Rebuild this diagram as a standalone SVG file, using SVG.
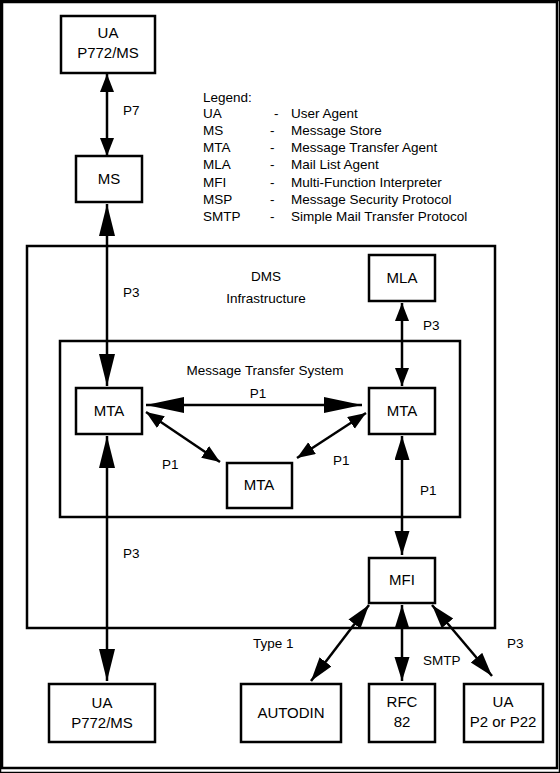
<svg xmlns="http://www.w3.org/2000/svg" width="560" height="773" viewBox="0 0 560 773">
<defs>
<style>
text{font-family:"Liberation Sans",Arial,sans-serif;fill:#000}
.n{font-size:15px;text-anchor:middle}
.l{font-size:13.5px}
.c{text-anchor:middle}
rect{fill:#fff;stroke:#000;stroke-width:2.5}
.frame{fill:none;stroke:#000;stroke-width:2.5}
.cn line{stroke:#000;stroke-width:2.5}
.s{marker-start:url(#hs);marker-end:url(#hs)}
.m{marker-start:url(#hm);marker-end:url(#hm)}
.b{marker-start:url(#hb);marker-end:url(#hb)}
.h{marker-start:url(#hl);marker-end:url(#hl)}
</style>
<marker id="hs" markerUnits="userSpaceOnUse" markerWidth="20" markerHeight="16" refX="18" refY="7" orient="auto-start-reverse"><path d="M0,0 L18,7 L0,14 Z" fill="#000"/></marker>
<marker id="hm" markerUnits="userSpaceOnUse" markerWidth="26" markerHeight="16" refX="24" refY="7.5" orient="auto-start-reverse"><path d="M0,0 L24,7.5 L0,15 Z" fill="#000"/></marker>
<marker id="hb" markerUnits="userSpaceOnUse" markerWidth="34" markerHeight="18" refX="32" refY="8" orient="auto-start-reverse"><path d="M0,0 L32,8 L0,16 Z" fill="#000"/></marker>
<marker id="hl" markerUnits="userSpaceOnUse" markerWidth="40" markerHeight="18" refX="38" refY="8" orient="auto-start-reverse"><path d="M0,0 L38,8 L0,16 Z" fill="#000"/></marker>
</defs>
<rect x="0" y="0" width="560" height="773" fill="#fff" stroke="none"/>
<rect class="frame" x="2" y="2" width="555" height="766"/>

<g id="dms"><rect class="frame" x="27" y="246" width="468" height="382"/>
<text class="l c" x="266" y="281">DMS</text><text class="l c" x="266" y="303">Infrastructure</text>
<text class="l" x="253" y="648">Type 1</text></g>
<g id="mts"><rect class="frame" x="60" y="341" width="400" height="176"/>
<text class="l c" x="265" y="375">Message Transfer System</text></g>

<g id="legend" class="l">
<text x="203" y="102">Legend:</text>
<text x="203" y="118">UA</text><text x="274" y="118">-</text><text x="291" y="118">User Agent</text>
<text x="203" y="135">MS</text><text x="270" y="135">-</text><text x="291" y="135">Message Store</text>
<text x="203" y="152">MTA</text><text x="270" y="152">-</text><text x="291" y="152">Message Transfer Agent</text>
<text x="203" y="169">MLA</text><text x="270" y="169">-</text><text x="291" y="169">Mail List Agent</text>
<text x="203" y="187">MFI</text><text x="270" y="187">-</text><text x="291" y="187">Multi-Function Interpreter</text>
<text x="203" y="204">MSP</text><text x="270" y="204">-</text><text x="291" y="204">Message Security Protocol</text>
<text x="203" y="221">SMTP</text><text x="270" y="221">-</text><text x="291" y="221">Simple Mail Transfer Protocol</text>
</g>

<g id="connectors" class="cn">
<line class="s" x1="107" y1="74" x2="107" y2="156"/>
<line class="b" x1="107" y1="204" x2="107" y2="386"/>
<line class="b" x1="107" y1="436" x2="107" y2="681"/>
<line class="s" x1="402" y1="303" x2="402" y2="386"/>
<line class="m" x1="402" y1="436" x2="402" y2="555"/>
<line class="h" x1="146" y1="405" x2="362" y2="405"/>
<line class="s" x1="146" y1="412" x2="220" y2="462"/>
<line class="s" x1="366" y1="413" x2="297" y2="458"/>
<line class="m" x1="369" y1="605" x2="311" y2="681"/>
<line class="m" x1="402" y1="605" x2="402" y2="681"/>
<line class="m" x1="432" y1="605" x2="492" y2="676"/>
<g class="l"><text x="123" y="115">P7</text><text x="123" y="297">P3</text><text x="123" y="558">P3</text>
<text x="423" y="330">P3</text><text class="c" x="258" y="398">P1</text><text x="162" y="469">P1</text>
<text x="333" y="465">P1</text><text x="420" y="495">P1</text><text x="423" y="665">SMTP</text><text x="507" y="648">P3</text></g>
</g>

<g id="ua_top"><rect x="61" y="16" width="94" height="57"/><text class="n" x="108" y="38">UA</text><text class="n" x="108" y="58">P772/MS</text></g>
<g id="ms"><rect x="76" y="156" width="66" height="46"/><text class="n" x="109" y="184">MS</text></g>
<g id="mla"><rect x="369" y="255" width="66" height="46"/><text class="n" x="402" y="283">MLA</text></g>
<g id="mta_left"><rect x="76" y="388" width="66" height="46"/><text class="n" x="109" y="416">MTA</text></g>
<g id="mta_right"><rect x="369" y="388" width="66" height="46"/><text class="n" x="402" y="416">MTA</text></g>
<g id="mta_bottom"><rect x="227" y="463" width="65" height="45"/><text class="n" x="259" y="490">MTA</text></g>
<g id="mfi"><rect x="369" y="558" width="66" height="45"/><text class="n" x="402" y="585">MFI</text></g>
<g id="ua_bottom"><rect x="49" y="684" width="106" height="58"/><text class="n" x="102" y="708">UA</text><text class="n" x="102" y="728">P772/MS</text></g>
<g id="autodin"><rect x="241" y="684" width="100" height="58"/><text class="n" x="291" y="718">AUTODIN</text></g>
<g id="rfc"><rect x="369" y="684" width="66" height="58"/><text class="n" x="402" y="707">RFC</text><text class="n" x="402" y="727">82</text></g>
<g id="ua_p2"><rect x="464" y="684" width="79" height="58"/><text class="n" x="503" y="707">UA</text><text class="n" x="503" y="727">P2 or P22</text></g>
</svg>
